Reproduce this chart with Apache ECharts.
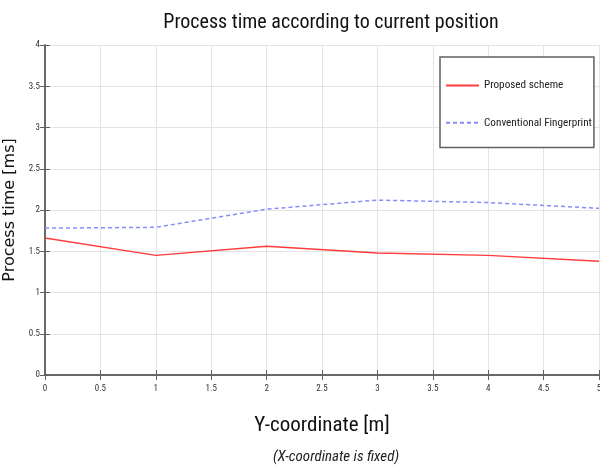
<!DOCTYPE html>
<html>
<head>
<meta charset="utf-8">
<script src="https://cdn.jsdelivr.net/npm/echarts@6/dist/echarts.min.js"></script>
<style>
  html, body { margin: 0; padding: 0; background: #fff; }
  #chart { width: 600px; height: 470px; }
</style>
</head>
<body>
<div id="chart"></div>
<script>
(function () {

    var xPos = [0, 1, 2, 3, 4, 5];
    var proposed = [1.66, 1.45, 1.56, 1.48, 1.45, 1.38];
    var conventional = [1.78, 1.79, 2.01, 2.12, 2.09, 2.02];
    var seriesNames = ['Proposed scheme', 'Conventional Fingerprint'];

    function pairs(ys) {
        return xPos.map(function (x, i) { return [x, ys[i]]; });
    }

    var narrow = '"Roboto Condensed", "DejaVu Sans Condensed", sans-serif';
    var axisLine = { show: true, lineStyle: { color: '#606060', width: 1.5 } };
    var tick = { inside: true, length: 5, lineStyle: { color: '#606060' } };
    var hiddenLabels = { show: false };

    var chart = echarts.init(document.getElementById('chart'));

    chart.setOption({
        animation: false,
        backgroundColor: '#fff',
        title: [
            { text: 'Process time according to current position', left: 326, top: 8, textAlign: 'center',
              textStyle: { fontFamily: narrow, fontSize: 20, fontWeight: 'normal', color: '#111' } },
            { text: '(X-coordinate is fixed)', left: 331, top: 445, textAlign: 'center',
              textStyle: { fontFamily: narrow, fontSize: 15, fontStyle: 'italic', fontWeight: 'normal', color: '#222' } }
        ],
        legend: {
            orient: 'vertical', left: 440, top: 57,
            data: seriesNames,
            itemWidth: 33, itemHeight: 14, itemGap: 26,
            padding: [23, 2, 19, 5],
            borderColor: '#606060', borderWidth: 1.5,
            backgroundColor: '#fff',
            itemStyle: { opacity: 0 },
            textStyle: { fontFamily: narrow, fontSize: 11.2, color: '#222' }
        },
        grid: { left: 45, right: 1, top: 45, bottom: 95, outerBoundsMode: 'none' },
        xAxis: [
            { type: 'value', min: 0, max: 5, interval: 0.5,
              name: 'Y-coordinate [m]', nameLocation: 'middle', nameGap: 40,
              nameTextStyle: { fontFamily: narrow, fontSize: 21, color: '#111' },
              axisLine: axisLine, axisTick: tick,
              axisLabel: { fontFamily: narrow, fontSize: 9, color: '#333', margin: 9 },
              splitLine: { show: true, lineStyle: { color: '#e4e4e4' } } },
            { type: 'value', position: 'top', min: 0, max: 5, interval: 0.5,
              axisLine: axisLine, axisTick: tick,
              axisLabel: hiddenLabels, splitLine: { show: false } }
        ],
        yAxis: [
            { type: 'value', min: 0, max: 4, interval: 0.5,
              name: 'Process time [ms]', nameLocation: 'middle', nameGap: 24,
              nameTextStyle: { fontFamily: '"DejaVu Sans", sans-serif', fontSize: 16, color: '#111' },
              axisLine: axisLine, axisTick: tick,
              axisLabel: { fontFamily: narrow, fontSize: 9, color: '#333', margin: 5 },
              splitLine: { show: true, lineStyle: { color: '#e4e4e4' } } },
            { type: 'value', position: 'right', min: 0, max: 4, interval: 0.5,
              axisLine: axisLine, axisTick: tick,
              axisLabel: hiddenLabels, splitLine: { show: false } }
        ],
        series: [
            { name: seriesNames[0], type: 'line', symbol: 'none', data: pairs(proposed),
              lineStyle: { color: '#ff3c3c', width: 1.5 }, itemStyle: { color: '#ff3c3c' } },
            { name: seriesNames[1], type: 'line', symbol: 'none', data: pairs(conventional),
              lineStyle: { color: '#8a8aff', width: 1.5, type: [4, 3] }, itemStyle: { color: '#8a8aff' } }
        ]
    });

})();
</script>
</body>
</html>
